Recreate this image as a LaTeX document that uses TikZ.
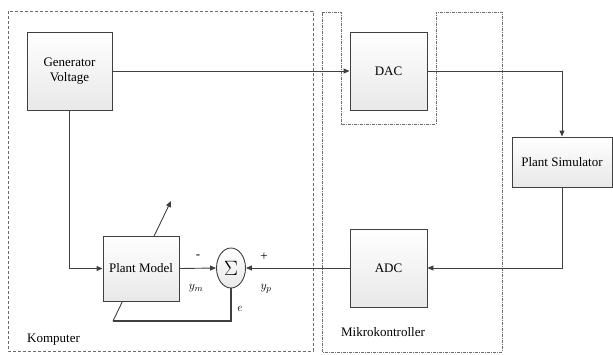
\documentclass[tikz,border=0pt]{standalone}
\usepackage{fontspec}
\setmainfont{Liberation Serif}
\usetikzlibrary{arrows.meta,shapes.geometric,shadows}
\definecolor{wire}{HTML}{404040}
\tikzset{
  block/.style={draw=wire, line width=0.9pt, top color=white, bottom color=gray!18,
                drop shadow={shadow xshift=1pt, shadow yshift=-1pt, opacity=0.25},
                font=\fontsize{13}{15}\selectfont, align=center, inner sep=1pt},
  sumnode/.style={ellipse, draw=wire, line width=0.9pt, top color=white, bottom color=gray!18,
                  minimum width=29pt, minimum height=40pt, inner sep=0pt},
  ptr/.style={-{Triangle[length=6pt,width=5pt]}, wire, line width=0.9pt},
  wireline/.style={wire, line width=1.3pt},
  zone/.style={gray!85!black, line width=0.6pt},
  lbl/.style={font=\fontsize{13}{15}\selectfont, inner sep=0pt},
}

\begin{document}
\begin{tikzpicture}[x=1pt, y=-1pt]
\useasboundingbox (0,0) rectangle (613,354);

%% zones
\draw[zone, densely dashed] (8,11) rectangle (313,351);
\draw[zone, dash pattern=on 3pt off 1pt on 1pt off 1pt]
  (322,12) -- (341,12) -- (341,124) -- (436,124) -- (436,12)
  -- (502,12) -- (502,352) -- (322,352) -- cycle;
\node[lbl, anchor=west] (komp) at (27,340) {Komputer};
\node[lbl] (mikro) at (383,332) {Mikrokontroller};

% tuning arrow through the plant model
\coordinate (tune0) at (113,321);
\coordinate (tune1) at (171,201);
\draw[ptr] (tune0) -- (tune1);

%% blocks
\node[block, minimum width=85pt, minimum height=78pt] (gen) at (69.5,71) {Generator\\Voltage};
\node[block, minimum width=77pt, minimum height=78pt] (dac) at (388.5,71) {DAC};
\node[block, minimum width=100pt, minimum height=50pt] (sim) at (562,162) {Plant Simulator};
\node[block, minimum width=77pt, minimum height=78pt] (adc) at (388.5,268) {ADC};
\node[block, minimum width=76pt, minimum height=65pt] (model) at (141,268.5) {Plant Model};
\node[sumnode] (sum) at (231,268) {\fontsize{20}{22}\selectfont$\Sigma$};

%% signal labels
\node[lbl] (minus) at (198,257) {-};
\node[lbl] (plus) at (264,257) {+};
\node[lbl] (ym) at (196,288) {$y_m$};
\node[lbl] (yp) at (266,289) {$y_p$};
\node[lbl] (err) at (240,309) {$e$};

%% connections
\draw[ptr] (gen.east) -- (dac.west);
\draw[ptr] (dac.east) -| (sim.north);
\draw[ptr] (sim.south) |- (adc.east);
\draw[ptr] (adc.west) -- (sum.east);
\draw[ptr] (gen.south) |- (model.west);
\draw[ptr] (model.east) -- (sum.west);
\draw[wireline] (sum.south) |- (tune0);

\end{tikzpicture}
\end{document}
